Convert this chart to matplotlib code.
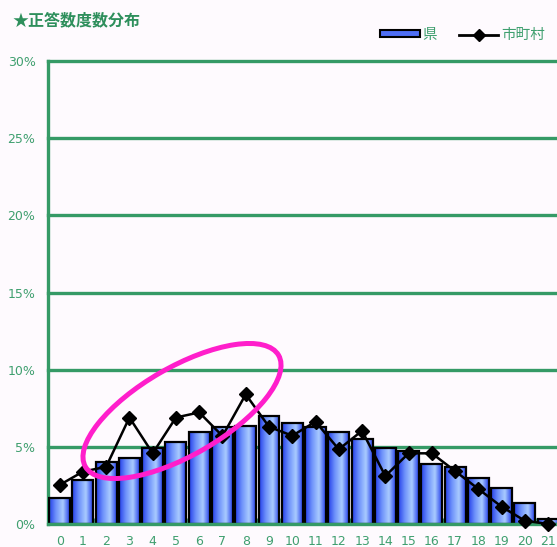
import numpy as np
import matplotlib
matplotlib.use('Agg')
from matplotlib import pyplot as plt
from matplotlib.colors import LinearSegmentedColormap
from matplotlib.patches import Ellipse, Rectangle, Patch
from matplotlib.lines import Line2D
from matplotlib.transforms import IdentityTransform

plt.rcParams['font.family'] = ['Noto Sans CJK JP', 'DejaVu Sans']

# Data
scores = list(range(22))
pref = [1.70, 2.85, 4.00, 4.30, 4.94, 5.33, 5.98, 6.30, 6.35, 7.00, 6.56,
        6.30, 5.98, 5.50, 4.94, 4.75, 3.89, 3.71, 3.00, 2.31, 1.34, 0.32]
city = [2.53, 3.39, 3.71, 6.90, 4.58, 6.90, 7.23, 5.70, 8.40, 6.30, 5.72,
        6.63, 4.84, 6.04, 3.11, 4.58, 4.58, 3.43, 2.27, 1.12, 0.21, 0.00]
yticks = [0, 5, 10, 15, 20, 25, 30]
title = '★正答数度数分布'

green = '#359a66'
label_green = '#3f9f6f'
bg = '#fefafe'

W, H = 557, 547
fig = plt.figure(figsize=(W / 100, H / 100), dpi=100, facecolor=bg)
ax = fig.add_axes([48 / W, 23 / H, 1 - 48 / W, (524 - 61) / H])
ax.set_facecolor(bg)

# horizontal grid lines
for v in yticks[1:]:
    ax.axhline(v, color=green, lw=2.4, clip_on=False, zorder=1)

# gradient bars (cylinder look)
cmap = LinearSegmentedColormap.from_list('cyl', ['#2540ea', '#6f93fb', '#a9cbff', '#2540ea'])
grad = np.linspace(0, 1, 64).reshape(1, -1)
bw = 0.9
for x, h in zip(scores, pref):
    ax.imshow(grad, cmap=cmap, extent=(x - bw / 2, x + bw / 2, 0, h),
              aspect='auto', zorder=2, interpolation='bilinear')
    ax.add_patch(Rectangle((x - bw / 2, 0), bw, h, facecolor='none',
                           edgecolor='black', lw=1.6, zorder=3))
ax.set_xlim(-0.5, 21.38)
ax.set_ylim(0, 30)

ax.plot(scores, city, color='black', lw=1.8, marker='D', ms=7,
        zorder=5, clip_on=False)

# spines / ticks
for s in ['top', 'right']:
    ax.spines[s].set_visible(False)
ax.spines['left'].set_color(green)
ax.spines['left'].set_linewidth(2.4)
ax.spines['bottom'].set_color(green)
ax.spines['bottom'].set_linewidth(2.4)
ax.spines['bottom'].set_zorder(4)

ax.set_yticks(yticks)
ax.set_yticklabels([f'{v}%' for v in yticks], family='DejaVu Sans')
ax.set_xticks(scores)
ax.set_xticklabels([str(s) for s in scores], family='DejaVu Sans')
ax.set_xticks(np.arange(0.5, 21, 1), minor=True)
ax.tick_params(axis='both', which='major', length=0, colors=label_green,
               labelsize=9)
ax.tick_params(axis='x', which='major', pad=8)
ax.tick_params(axis='y', which='major', pad=9)
ax.tick_params(axis='x', which='minor', direction='in', length=4,
               width=2, color=green)

# title
fig.text(12 / W, 1 - 20 / H, title, color='#2e8f5c', fontsize=11.5,
         fontweight='bold', va='center', ha='left')

# legend
handles = [Patch(facecolor='#4f6ff5', edgecolor='black', lw=1.5),
           Line2D([], [], color='black', lw=2, marker='D', ms=6)]
fig.legend(handles, ['県', '市町村'], ncol=2, frameon=False,
           loc='center right', bbox_to_anchor=(0.997, 1 - 35 / H),
           fontsize=10.5, labelcolor=label_green, handlelength=2.7,
           handleheight=0.35, handletextpad=0.2, columnspacing=1.5,
           borderaxespad=0.3)

# magenta highlight ellipse
ell = Ellipse((182, H - 411), 223, 88, angle=30, fill=False,
              edgecolor='#ff1ecb', lw=3.6, transform=IdentityTransform(),
              zorder=10)
fig.patches.append(ell)

fig.savefig('out.png', dpi=100, facecolor=bg)
